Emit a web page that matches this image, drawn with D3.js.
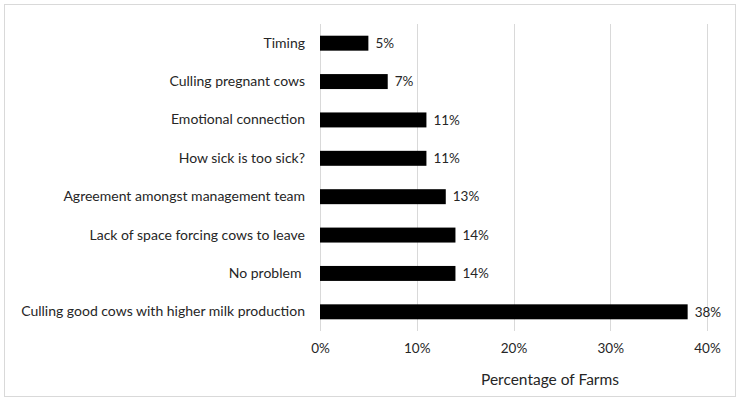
<!DOCTYPE html>
<html><head><meta charset="utf-8">
<script src="https://cdn.jsdelivr.net/npm/d3@7"></script>
<style>
html,body{margin:0;padding:0;background:#fff;}
svg text{font-family:Lato,"Open Sans",sans-serif;fill:#262626;white-space:pre;}
</style></head>
<body>
<svg id="c" width="740" height="403"></svg>
<script>
const categories = ["Timing","Culling pregnant cows","Emotional connection","How sick is too sick?","Agreement amongst management team","Lack of space forcing cows to leave","No problem ","Culling good cows with higher milk production"];
const values = [5,7,11,11,13,14,14,38];
const tickValues = [0,10,20,30,40];
const xTitle = "Percentage of Farms";

const svg = d3.select("#c");
svg.append("rect").attr("x",4.5).attr("y",4.5).attr("width",731).attr("height",392)
  .attr("fill","#fff").attr("stroke","#d9d9d9").attr("stroke-width",1);

const x = d3.scaleLinear().domain([0,40]).range([320,707]);
const y = d3.scaleBand().domain(categories).range([24,331]).paddingInner(0.61).paddingOuter(0.305);

// gridlines
svg.append("g").selectAll("line").data(tickValues).join("line")
  .attr("x1",d=>Math.round(x(d))+0.5).attr("x2",d=>Math.round(x(d))+0.5)
  .attr("y1",24).attr("y2",331)
  .attr("stroke","#d9d9d9").attr("stroke-width",1);

// bars
svg.append("g").selectAll("rect").data(values).join("rect")
  .attr("x",x(0)).attr("y",(d,i)=>y(categories[i]))
  .attr("width",d=>x(d)-x(0)).attr("height",y.bandwidth())
  .attr("fill","#000");

// value labels
svg.append("g").selectAll("text").data(values).join("text")
  .attr("x",d=>x(d)+7).attr("y",(d,i)=>y(categories[i])+y.bandwidth()/2)
  .attr("dy","0.35em").attr("font-size",13.5).text(d=>d+"%");

// category labels
const yAxis = d3.axisLeft(y).tickSize(0).tickPadding(15);
const gy = svg.append("g").attr("transform",`translate(${x(0)},0)`).call(yAxis);
gy.select(".domain").remove();
gy.selectAll("text").attr("font-size",14).attr("font-family",null).attr("fill",null);

// x tick labels
const xAxis = d3.axisBottom(x).tickValues(tickValues).tickFormat(d=>d+"%").tickSize(0).tickPadding(12);
const gx = svg.append("g").attr("transform","translate(0,331)").call(xAxis);
gx.select(".domain").remove();
gx.selectAll("text").attr("font-size",13.5).attr("font-family",null).attr("fill",null);

svg.append("text").attr("x",550).attr("y",385).attr("text-anchor","middle")
  .attr("font-size",15.5).text(xTitle);
</script>
</body></html>
